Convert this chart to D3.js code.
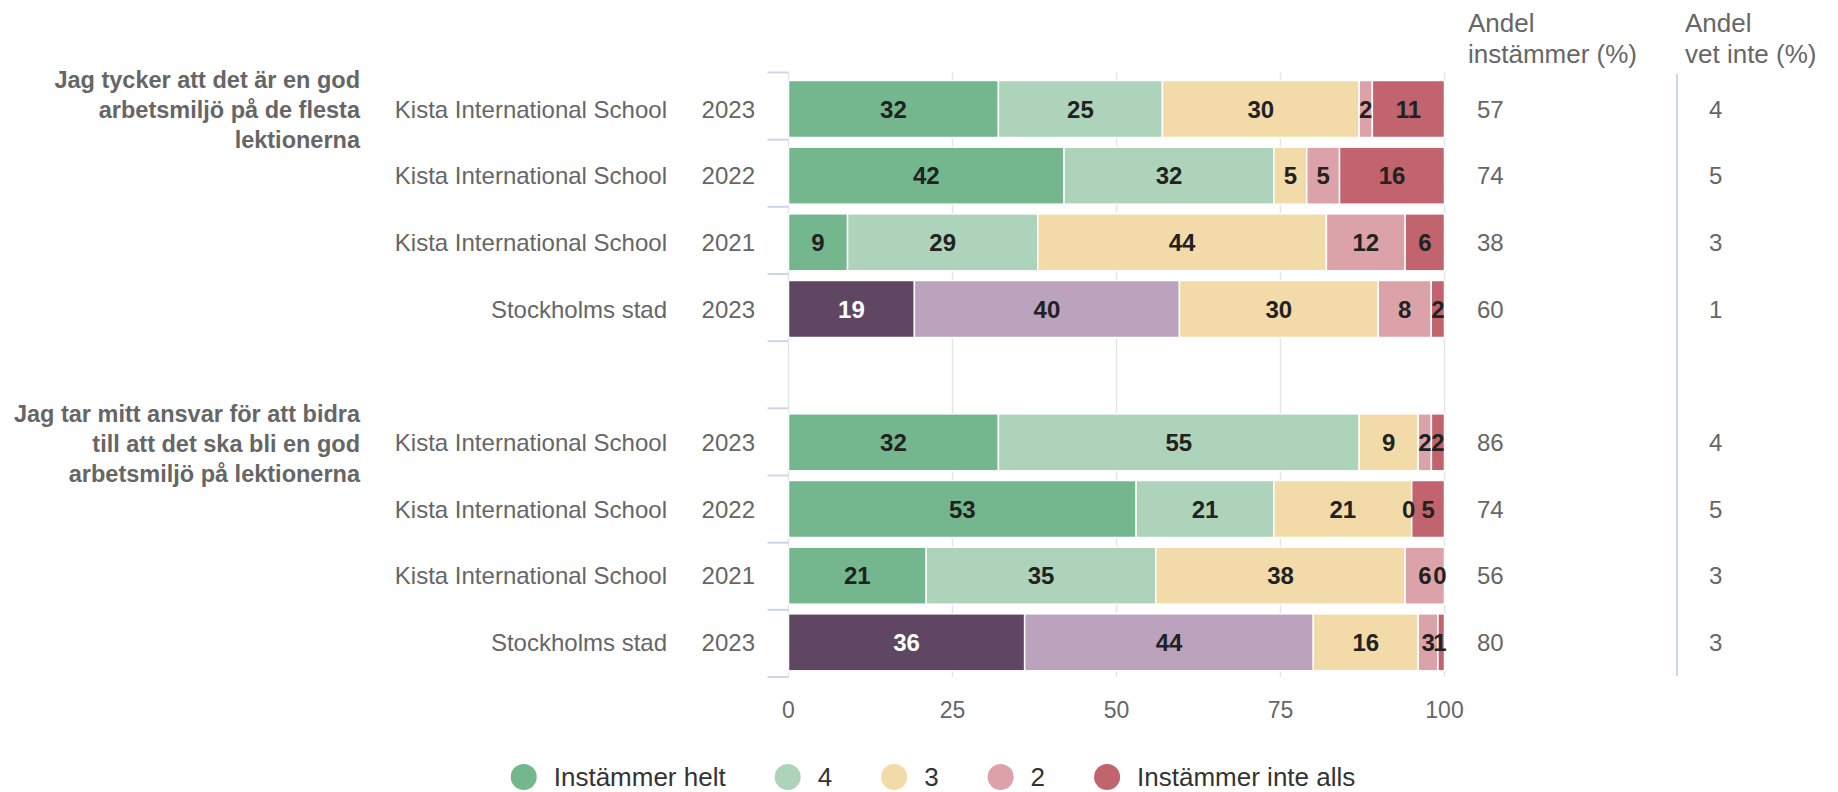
<!DOCTYPE html>
<html>
<head>
<meta charset="utf-8">
<script src="https://cdn.jsdelivr.net/npm/d3@7"></script>
<style>
  body { margin: 0; background: #fff; }
  svg { font-family: "Liberation Sans", Arial, Helvetica, sans-serif; }
</style>
</head>
<body>
<svg id="chart" width="1838" height="792"></svg>
<script>
// DATA
var questions = [
    ["Jag tycker att det är en god", "arbetsmiljö på de flesta", "lektionerna"],
    ["Jag tar mitt ansvar för att bidra", "till att det ska bli en god", "arbetsmiljö på lektionerna"]
];
var units = ["Kista International School", "Kista International School", "Kista International School", "Stockholms stad"];
var years = ["2023", "2022", "2021", "2023"];
var seriesNames = ["Instämmer helt", "4", "3", "2", "Instämmer inte alls"];

// one value per row: question 1 (4 rows), then question 2 (4 rows)
var helt     = [32, 42,  9, 19,   32, 53, 21, 36];
var fyra     = [25, 32, 29, 40,   55, 21, 35, 44];
var tre      = [30,  5, 44, 30,    9, 21, 38, 16];
var tva      = [ 2,  5, 12,  8,    2,  0,  6,  3];
var inteAlls = [11, 16,  6,  2,    2,  5,  0,  1];

var andelInstammer = [57, 74, 38, 60, 86, 74, 56, 80];
var andelVetInte   = [ 4,  5,  3,  1,  4,  5,  3,  3];

var xTicks = [0, 25, 50, 75, 100];

// colours
var colorsSchool = ["#74b78e", "#add4bb", "#f2dba8", "#dba2a9", "#c1646d"];
var colorsStad   = ["#5f4662", "#bba2bd", "#f2dba8", "#dba2a9", "#c1646d"];

var series = [helt, fyra, tre, tva, inteAlls];

// GRAPHICAL FUNCTIONS
var svg = d3.select("#chart");
var gray = "#666666";

var plotLeft = 788.5, plotRight = 1444.5, plotTop = 72.5, plotBottom = 677;

var x = d3.scaleLinear().domain([0, 100]).range([plotLeft, plotRight]);

// 9 slots: 4 rows, one empty spacer, 4 rows
var y = d3.scaleBand().domain(d3.range(9)).range([plotTop, plotBottom]).padding(0);
var step = y.step();
// bars sit on a slightly shorter band than the ticks
var yBar = d3.scaleBand().domain(d3.range(9)).range([plotTop + 4, plotBottom - 0.5]).padding(0);
var barStep = yBar.step();
var barH = barStep * 0.855;

function slotOf(i) { return i < 4 ? i : i + 1; }
function barTop(i) { return yBar(slotOf(i)) + barStep * 0.06; }
function barMid(i) { return barTop(i) + barH / 2; }

// rows with stacked segments (percent stacking)
var rows = d3.range(8).map(function(i) {
    var vals = series.map(function(s) { return s[i]; });
    var total = d3.sum(vals);
    var acc = 0;
    var segs = vals.map(function(v, k) {
        var s = { row: i, k: k, value: v, x0: acc / total * 100, x1: (acc + v) / total * 100 };
        acc += v;
        return s;
    });
    return { i: i, stad: (i % 4) === 3, segs: segs };
});

// gridlines
svg.append("g")
    .selectAll("line")
    .data(xTicks)
    .enter().append("line")
    .attr("x1", function(d) { return x(d); })
    .attr("x2", function(d) { return x(d); })
    .attr("y1", plotTop)
    .attr("y2", plotBottom)
    .style("stroke", "#e6e6e6")
    .style("stroke-width", 1.5);

// category axis ticks (band boundaries)
svg.append("g")
    .selectAll("line")
    .data(d3.range(10))
    .enter().append("line")
    .attr("x1", plotLeft - 21)
    .attr("x2", plotLeft)
    .attr("y1", function(d) { return plotTop + d * step; })
    .attr("y2", function(d) { return plotTop + d * step; })
    .style("stroke", "#ccd6eb")
    .style("stroke-width", 2);

// bars
var rowG = svg.append("g")
    .selectAll("g")
    .data(rows)
    .enter().append("g");

rowG.selectAll("rect")
    .data(function(d) { return d.segs.map(function(s) { s.stad = d.stad; return s; }); })
    .enter().append("rect")
    .attr("x", function(d) { return x(d.x0); })
    .attr("y", function(d) { return barTop(d.row); })
    .attr("width", function(d) { return Math.max(0, x(d.x1) - x(d.x0)); })
    .attr("height", barH)
    .style("fill", function(d) { return d.stad ? colorsStad[d.k] : colorsSchool[d.k]; })
    .style("stroke", "#ffffff")
    .style("stroke-width", 1.5);

// data labels
rowG.selectAll("text")
    .data(function(d) { return d.segs; })
    .enter().append("text")
    .attr("x", function(d) { return (x(d.x0) + x(d.x1)) / 2; })
    .attr("y", function(d) { return barMid(d.row); })
    .attr("dy", "0.36em")
    .attr("text-anchor", "middle")
    .style("font-size", "24px")
    .style("font-weight", "bold")
    .style("fill", function(d) { return (d.stad && d.k === 0) ? "#ffffff" : "#222222"; })
    .text(function(d) { return d.value; })
    .each(function(d) {
        var w = this.getComputedTextLength();
        var cx = (x(d.x0) + x(d.x1)) / 2;
        //zero-width segment: nudge label left so it does not touch the next one
        if (d.value === 0 && d.x1 < 99) cx -= 3;
        if (cx + w / 2 > plotRight + 2) cx = plotRight + 2 - w / 2;
        d3.select(this).attr("x", cx);
    });

// category labels
svg.append("g")
    .selectAll("text")
    .data(d3.range(8))
    .enter().append("text")
    .attr("x", 667)
    .attr("y", function(i) { return barMid(i); })
    .attr("dy", "0.36em")
    .attr("text-anchor", "end")
    .style("font-size", "24px")
    .style("fill", gray)
    .text(function(i) { return units[i % 4]; });

svg.append("g")
    .selectAll("text")
    .data(d3.range(8))
    .enter().append("text")
    .attr("x", 755)
    .attr("y", function(i) { return barMid(i); })
    .attr("dy", "0.36em")
    .attr("text-anchor", "end")
    .style("font-size", "24px")
    .style("fill", gray)
    .text(function(i) { return years[i % 4]; });

// question labels
questions.forEach(function(lines, q) {
    var mid = barMid(q * 4) + 1;
    var t = svg.append("text")
        .attr("text-anchor", "end")
        .style("font-size", "23.5px")
        .style("font-weight", "bold")
        .style("fill", gray);
    lines.forEach(function(line, j) {
        t.append("tspan")
            .attr("x", 360)
            .attr("y", mid + (j - 1) * 30)
            .attr("dy", "0.36em")
            .text(line);
    });
});

// x axis labels
svg.append("g")
    .selectAll("text")
    .data(xTicks)
    .enter().append("text")
    .attr("x", function(d) { return x(d); })
    .attr("y", 710)
    .attr("dy", "0.36em")
    .attr("text-anchor", "middle")
    .style("font-size", "23px")
    .style("fill", gray)
    .text(function(d) { return d; });

// extra value columns
var colInst = 1477, colVet = 1709;

function drawColumn(xPos, header, values) {
    var h = svg.append("text")
        .style("font-size", "26px")
        .style("fill", gray);
    header.forEach(function(line, j) {
        h.append("tspan").attr("x", xPos).attr("y", 32 + j * 31).text(line);
    });
    svg.append("g")
        .selectAll("text")
        .data(values)
        .enter().append("text")
        .attr("x", xPos + 9)
        .attr("y", function(d, i) { return barMid(i); })
        .attr("dy", "0.36em")
        .style("font-size", "24px")
        .style("fill", gray)
        .text(function(d) { return d; });
}
drawColumn(colInst - 9, ["Andel", "instämmer (%)"], andelInstammer);
drawColumn(colVet - 24, ["Andel", "vet inte (%)"], []);
svg.append("g")
    .selectAll("text")
    .data(andelVetInte)
    .enter().append("text")
    .attr("x", colVet)
    .attr("y", function(d, i) { return barMid(i); })
    .attr("dy", "0.36em")
    .style("font-size", "24px")
    .style("fill", gray)
    .text(function(d) { return d; });

svg.append("line")
    .attr("x1", 1677).attr("x2", 1677)
    .attr("y1", 74).attr("y2", 676)
    .style("stroke", "#ccd6eb")
    .style("stroke-width", 2);

// legend
var legend = svg.append("g");
var lx = 0;
seriesNames.forEach(function(name, k) {
    var g = legend.append("g");
    g.append("circle")
        .attr("cx", lx + 13)
        .attr("cy", 777)
        .attr("r", 13)
        .style("fill", colorsSchool[k]);
    var t = g.append("text")
        .attr("x", lx + 43)
        .attr("y", 777)
        .attr("dy", "0.36em")
        .style("font-size", "26px")
        .style("fill", "#333333")
        .text(name);
    lx = lx + 43 + t.node().getComputedTextLength() + 49;
});
var legendW = lx - 49;
legend.attr("transform", "translate(" + (933 - legendW / 2) + ",0)");
</script>
</body>
</html>
